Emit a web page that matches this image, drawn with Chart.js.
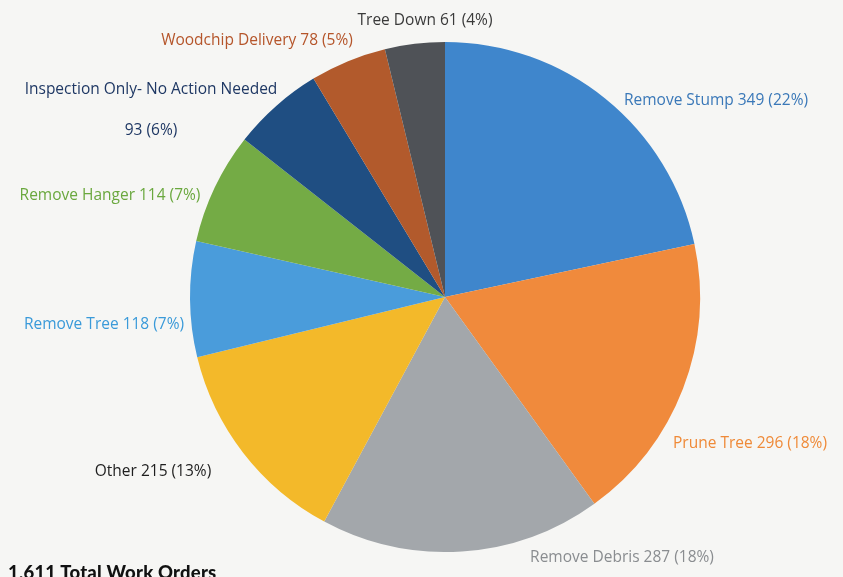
<!DOCTYPE html>
<html>
<head>
<meta charset="utf-8">
<script src="https://cdn.jsdelivr.net/npm/chart.js@4/dist/chart.umd.min.js"></script>
<style>
  html, body { margin: 0; padding: 0; background: #f6f6f4; }
  #wrap { position: relative; width: 843px; height: 577px; overflow: hidden; }
  #total {
    position: absolute; left: 8px; top: 561px;
    font: 900 18.5px Lato, "Open Sans", sans-serif; color: #111;
    letter-spacing: 0.2px; white-space: nowrap;
  }
</style>
</head>
<body>
<div id="wrap">
  <canvas id="grafica" width="843" height="577"></canvas>
  <div id="total">1,611 Total Work Orders</div>
</div>
<script>
const categorias = ['Remove Stump', 'Prune Tree', 'Remove Debris', 'Other', 'Remove Tree',
  'Remove Hanger', 'Inspection Only- No Action Needed', 'Woodchip Delivery', 'Tree Down'];
const ordenes = [349, 296, 287, 215, 118, 114, 93, 78, 61];
const porcentajes = ['22%', '18%', '18%', '13%', '7%', '7%', '6%', '5%', '4%'];

const colores = ['#3f86cc', '#f08a3c', '#a3a7ab', '#f3b92a', '#4a9cdb',
  '#74ab45', '#1f4e82', '#b25a2c', '#4f5257'];
const coloresTexto = ['#3a78b8', '#ef8a38', '#8a8d90', '#1e1e1e', '#3a9ad9',
  '#6aa83e', '#1f3864', '#b5552a', '#3a3a3a'];

// donde va cada etiqueta (centro del texto); Inspection lleva dos renglones
const posEtiquetas = [
  [{ x: 716, y: 101 }], [{ x: 750, y: 444 }], [{ x: 622, y: 558 }], [{ x: 153, y: 472 }],
  [{ x: 104, y: 325 }], [{ x: 110, y: 196 }], [{ x: 151, y: 90 }, { x: 151, y: 131 }],
  [{ x: 257, y: 41 }], [{ x: 425, y: 21 }]
];

const etiquetas = {
  id: 'etiquetas',
  afterDraw(chart) {
    const c = chart.ctx;
    c.save();
    c.font = '15.5px "Open Sans", Lato, sans-serif';
    c.textAlign = 'center';
    c.textBaseline = 'middle';
    categorias.forEach((cat, i) => {
      const valor = ordenes[i] + ' (' + porcentajes[i] + ')';
      const pos = posEtiquetas[i];
      c.fillStyle = coloresTexto[i];
      if (pos.length > 1) {
        c.fillText(cat, pos[0].x, pos[0].y);
        c.fillText(valor, pos[1].x, pos[1].y);
      } else {
        c.fillText(cat + ' ' + valor, pos[0].x, pos[0].y);
      }
    });
    c.restore();
  }
};

const ctx = document.getElementById('grafica').getContext('2d');
new Chart(ctx, {
  type: 'pie',
  data: {
    labels: categorias,
    datasets: [{
      data: ordenes,
      backgroundColor: colores,
      borderWidth: 0
    }]
  },
  options: {
    responsive: false,
    animation: false,
    layout: { padding: { left: 190, right: 143, top: 42, bottom: 25 } },
    plugins: {
      legend: { display: false },
      tooltip: { enabled: false }
    }
  },
  plugins: [etiquetas]
});
</script>
</body>
</html>
